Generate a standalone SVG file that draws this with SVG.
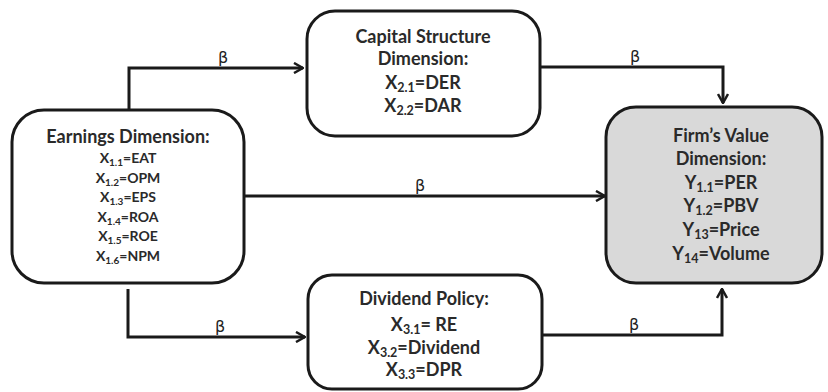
<svg xmlns="http://www.w3.org/2000/svg" width="828" height="392" viewBox="0 0 828 392">
<defs>
<style>
.box{fill:#fff;stroke:#1a1a1a;stroke-width:3}
.grey{fill:#d9d9d9}
.t{font-family:Lato,"Open Sans","Liberation Sans",sans-serif;font-weight:bold;fill:#2a2a2a;text-anchor:middle}
.s{font-size:18px}
.e{font-size:14px}
.s .sub{font-size:12.5px}
.e .sub{font-size:10px}
.c{fill:none;stroke:#1a1a1a;stroke-width:3}
.b{font-family:"DejaVu Sans",sans-serif;font-size:16px;fill:#222;text-anchor:middle}
</style>
<marker id="ah" viewBox="0 0 12 12" refX="11" refY="6" markerWidth="12" markerHeight="12" markerUnits="userSpaceOnUse" orient="auto">
<path d="M2,1 L11,6 L2,11" fill="none" stroke="#1a1a1a" stroke-width="2.5"/>
</marker>
</defs>
<rect width="828" height="392" fill="#fff"/>
<g id="connectors">
<path class="c" d="M129,110 V68 H303" marker-end="url(#ah)"/>
<path class="c" d="M540,67 H723 V103" marker-end="url(#ah)"/>
<path class="c" d="M245,196 H605" marker-end="url(#ah)"/>
<path class="c" d="M128,289 V337 H305" marker-end="url(#ah)"/>
<path class="c" d="M542,335 H722 V289" marker-end="url(#ah)"/>
<text class="b" x="223" y="63">β</text>
<text class="b" x="635" y="62">β</text>
<text class="b" x="420" y="191">β</text>
<text class="b" x="220" y="332">β</text>
<text class="b" x="634" y="330">β</text>
</g>
<g id="earnings">
<rect class="box" x="12" y="110" width="232" height="173" rx="32"/>
<text class="t s" x="128" y="143">Earnings Dimension:</text>
<text class="t e" x="128" y="163">X<tspan class="sub" dy="3">1.1</tspan><tspan dy="-3">=EAT</tspan></text>
<text class="t e" x="128" y="183">X<tspan class="sub" dy="3">1.2</tspan><tspan dy="-3">=OPM</tspan></text>
<text class="t e" x="128" y="202">X<tspan class="sub" dy="3">1.3</tspan><tspan dy="-3">=EPS</tspan></text>
<text class="t e" x="128" y="222">X<tspan class="sub" dy="3">1.4</tspan><tspan dy="-3">=ROA</tspan></text>
<text class="t e" x="128" y="241">X<tspan class="sub" dy="3">1.5</tspan><tspan dy="-3">=ROE</tspan></text>
<text class="t e" x="128" y="261">X<tspan class="sub" dy="3">1.6</tspan><tspan dy="-3">=NPM</tspan></text>
</g>
<g id="capital">
<rect class="box" x="307" y="11" width="233" height="125" rx="28"/>
<text class="t s" x="423" y="43">Capital Structure</text>
<text class="t s" x="423" y="65">Dimension:</text>
<text class="t s" x="423" y="89">X<tspan class="sub" dy="3">2.1</tspan><tspan dy="-3">=DER</tspan></text>
<text class="t s" x="423" y="112">X<tspan class="sub" dy="3">2.2</tspan><tspan dy="-3">=DAR</tspan></text>
</g>
<g id="dividend">
<rect class="box" x="308" y="275" width="234" height="114" rx="24"/>
<text class="t s" x="424" y="305">Dividend Policy:</text>
<text class="t s" x="424" y="331">X<tspan class="sub" dy="3">3.1</tspan><tspan dy="-3">= RE</tspan></text>
<text class="t s" x="424" y="354">X<tspan class="sub" dy="3">3.2</tspan><tspan dy="-3">=Dividend</tspan></text>
<text class="t s" x="424" y="376">X<tspan class="sub" dy="3">3.3</tspan><tspan dy="-3">=DPR</tspan></text>
</g>
<g id="firm">
<rect class="box grey" x="606" y="107" width="216" height="176" rx="30"/>
<text class="t s" x="721" y="142">Firm’s Value</text>
<text class="t s" x="721" y="165">Dimension:</text>
<text class="t s" x="721" y="189">Y<tspan class="sub" dy="3">1.1</tspan><tspan dy="-3">=PER</tspan></text>
<text class="t s" x="721" y="212">Y<tspan class="sub" dy="3">1.2</tspan><tspan dy="-3">=PBV</tspan></text>
<text class="t s" x="721" y="236">Y<tspan class="sub" dy="3">13</tspan><tspan dy="-3">=Price</tspan></text>
<text class="t s" x="721" y="260">Y<tspan class="sub" dy="3">14</tspan><tspan dy="-3">=Volume</tspan></text>
</g>
</svg>
